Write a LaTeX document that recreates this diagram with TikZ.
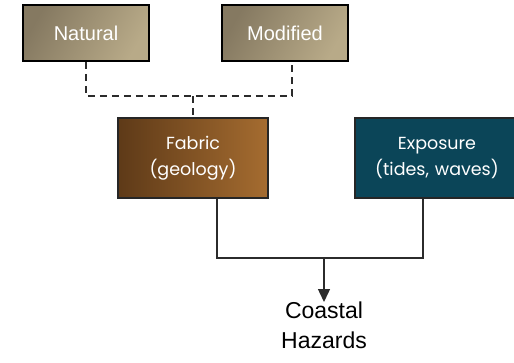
\documentclass[tikz,border=0pt]{standalone}
\usepackage{fontspec}
\setmainfont{Liberation Sans}
\newfontfamily\roundfont{Poppins}
\usetikzlibrary{arrows.meta}

\definecolor{sandL}{HTML}{B8AA88}
\definecolor{sandD}{HTML}{857961}
\definecolor{clayL}{HTML}{A56C30}
\definecolor{clayD}{HTML}{5E3A18}
\definecolor{tealbox}{HTML}{0B4558}
\definecolor{wire}{HTML}{2B2B2B}

\begin{document}
\begin{tikzpicture}[x=1pt, y=-1pt,
  sandbox/.style={draw=black, line width=1.6pt, minimum width=126pt, minimum height=56pt,
    shading=axis, left color=sandD, right color=sandL, shading angle=60,
    text=white, font=\fontsize{20}{22}\selectfont},
  mainbox/.style={draw=black!85, line width=1.6pt, minimum height=80pt, text=white,
    align=center, font=\roundfont\fontsize{17.5}{26}\selectfont},
  dashline/.style={draw=wire, line width=1.4pt, dash pattern=on 7pt off 5pt},
  link/.style={draw=wire, line width=1.4pt}]
\useasboundingbox (0,0) rectangle (514,362);

\node[sandbox] (natural) at (86,33) {Natural};
\node[sandbox] (modified) at (285,33) {Modified};

\node[mainbox, minimum width=150pt, left color=clayD, right color=clayL] (fabric) at (193,158) {Fabric\\(geology)};
\node[mainbox, minimum width=176pt, fill=tealbox, text width=150pt] (exposure) at (443,158) {\hspace*{-12pt}Exposure\\\hspace*{-12pt}(tides, waves)};

\node[anchor=north, inner sep=0pt, align=center, font=\fontsize{23}{30}\selectfont] (hazards) at (324,302) {Coastal\\Hazards};

% dashed joins on top
\coordinate (dj) at (193,96);
\coordinate (mod-foot) at ([xshift=7pt]modified.south);
\draw[dashline] (natural.south) |- (dj) -| (mod-foot);
\draw[dashline] (dj) -- (fabric.north);

% solid joins below
\coordinate (fab-foot) at ([xshift=24pt]fabric.south);
\coordinate (exp-foot) at ([xshift=-20pt]exposure.south);
\coordinate (join) at (324,258);
\draw[link] (fab-foot) |- (join) -| (exp-foot);
\draw[link, -{Triangle[width=12pt,length=13pt]}] (join) -- (hazards.north);
\end{tikzpicture}
\end{document}
